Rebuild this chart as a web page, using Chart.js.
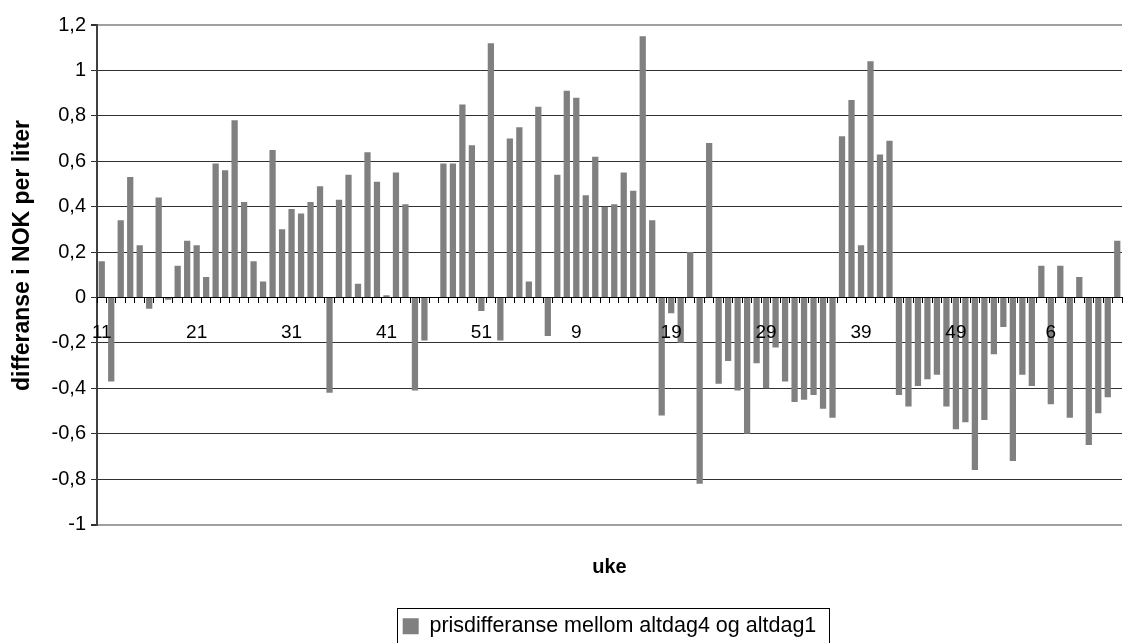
<!DOCTYPE html>
<html>
<head>
<meta charset="utf-8">
<script src="https://cdn.jsdelivr.net/npm/chart.js@4.4.1/dist/chart.umd.min.js"></script>
<style>
  html, body { margin: 0; padding: 0; background: #fff; }
  #wrap { width: 1123px; height: 643px; }
</style>
</head>
<body>
<div id="wrap"><canvas id="chart" width="1123" height="643"></canvas></div>
<script>
// uke 11-52 (år 1), 1-53 (år 2), 1-13 (år 3)
const weeks = [
    "11", "12", "13", "14", "15", "16", "17", "18", "19", "20",
    "21", "22", "23", "24", "25", "26", "27", "28", "29", "30",
    "31", "32", "33", "34", "35", "36", "37", "38", "39", "40",
    "41", "42", "43", "44", "45", "46", "47", "48", "49", "50",
    "51", "52", "1", "2", "3", "4", "5", "6", "7", "8",
    "9", "10", "11", "12", "13", "14", "15", "16", "17", "18",
    "19", "20", "21", "22", "23", "24", "25", "26", "27", "28",
    "29", "30", "31", "32", "33", "34", "35", "36", "37", "38",
    "39", "40", "41", "42", "43", "44", "45", "46", "47", "48",
    "49", "50", "51", "52", "53", "1", "2", "3", "4", "5",
    "6", "7", "8", "9", "10", "11", "12", "13"
];

const prisdifferanse = [
    0.16, -0.37, 0.34, 0.53, 0.23, -0.05, 0.44, -0.01, 0.14, 0.25,
    0.23, 0.09, 0.59, 0.56, 0.78, 0.42, 0.16, 0.07, 0.65, 0.30,
    0.39, 0.37, 0.42, 0.49, -0.42, 0.43, 0.54, 0.06, 0.64, 0.51,
    0.01, 0.55, 0.41, -0.41, -0.19, null, 0.59, 0.59, 0.85, 0.67,
    -0.06, 1.12, -0.19, 0.70, 0.75, 0.07, 0.84, -0.17, 0.54, 0.91,
    0.88, 0.45, 0.62, 0.40, 0.41, 0.55, 0.47, 1.15, 0.34, -0.52,
    -0.07, -0.20, 0.20, -0.82, 0.68, -0.38, -0.28, -0.41, -0.60, -0.29,
    -0.40, -0.22, -0.37, -0.46, -0.45, -0.43, -0.49, -0.53, 0.71, 0.87,
    0.23, 1.04, 0.63, 0.69, -0.43, -0.48, -0.39, -0.36, -0.34, -0.48,
    -0.58, -0.55, -0.76, -0.54, -0.25, -0.13, -0.72, -0.34, -0.39, 0.14,
    -0.47, 0.14, -0.53, 0.09, -0.65, -0.51, -0.44, 0.25
];

const yMin = -1;
const yMax = 1.2;
const yStep = 0.2;

const fontFamily = "'Liberation Sans', Arial, sans-serif";

// Excel-style ramme rundt forklaringen
const legendFrame = {
    id: "legendFrame",
    afterDraw(chart) {
        const box = chart.legend.legendHitBoxes[0];
        if (!box) return;
        const ctx = chart.ctx;
        const mid = box.top + box.height / 2;
        ctx.save();
        ctx.strokeStyle = "#000";
        ctx.lineWidth = 1;
        ctx.strokeRect(Math.round(box.left - 6) + 0.5, Math.round(mid - 18) + 0.5,
            Math.round(box.width + 18), 60);
        ctx.restore();
    }
};

new Chart(document.getElementById("chart"), {
    type: "bar",
    data: {
        labels: weeks,
        datasets: [{
            label: "prisdifferanse mellom altdag4 og altdag1",
            data: prisdifferanse,
            backgroundColor: "#808080",
            borderWidth: 0,
            categoryPercentage: 1,
            barPercentage: 0.66
        }]
    },
    options: {
        responsive: false,
        animation: false,
        layout: {
            padding: { top: 25, right: 1, bottom: -4, left: 0 }
        },
        plugins: {
            tooltip: { enabled: false },
            title: {
                display: true,
                text: "uke",
                position: "bottom",
                fullSize: false,
                color: "#000",
                font: { family: fontFamily, size: 20, weight: "bold" },
                padding: { top: 31, bottom: 30 }
            },
            legend: {
                position: "bottom",
                fullSize: false,
                weight: 3000,
                labels: {
                    color: "#000",
                    font: { family: fontFamily, size: 21.5 },
                    boxWidth: 16,
                    boxHeight: 16,
                    padding: 6
                }
            }
        },
        scales: {
            x: {
                position: { y: 0 },
                offset: true,
                afterFit: scale => {
                    scale.paddingLeft = 0;
                    scale.paddingRight = 0;
                },
                grid: {
                    offset: true,
                    drawOnChartArea: false,
                    drawTicks: true,
                    tickLength: 5,
                    color: "#000",
                    z: 1
                },
                border: { display: true, color: "#000", width: 1, z: 1 },
                ticks: {
                    autoSkip: false,
                    maxRotation: 0,
                    minRotation: 0,
                    padding: 19,
                    color: "#000",
                    z: 1,
                    font: { family: fontFamily, size: 19 },
                    callback: function (value, index) {
                        return index % 10 === 0 ? this.getLabelForValue(value) : "";
                    }
                }
            },
            y: {
                min: yMin,
                max: yMax,
                afterFit: scale => { scale.width = 97; },
                grid: {
                    color: ctx => {
                        const v = Math.round(ctx.tick.value * 10) / 10;
                        if (v === yMax || v === yMin) return "#a0a0a0";
                        return "#303030";
                    },
                    lineWidth: ctx => {
                        const v = Math.round(ctx.tick.value * 10) / 10;
                        return (v === yMax || v === yMin) ? 2 : 1;
                    },
                    tickColor: "#303030",
                    tickLength: 6
                },
                border: { display: true, color: "#404040", width: 2 },
                ticks: {
                    stepSize: yStep,
                    padding: 5,
                    color: "#000",
                    font: { family: fontFamily, size: 20 },
                    callback: value => String(Math.round(value * 10) / 10).replace(".", ",")
                },
                title: {
                    display: true,
                    // ledende mellomrom flytter teksten litt opp, som i Excel
                    text: "      differanse i NOK per liter",
                    color: "#000",
                    font: { family: fontFamily, size: 23, weight: "bold" },
                    padding: { top: 9, bottom: 0 }
                }
            }
        }
    },
    plugins: [legendFrame]
});
</script>
</body>
</html>
